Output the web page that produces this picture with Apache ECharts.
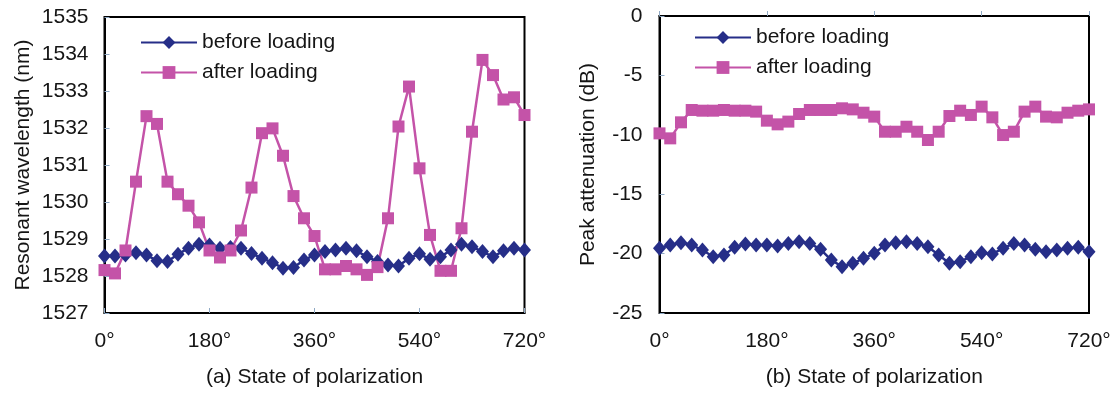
<!DOCTYPE html>
<html>
<head>
<meta charset="utf-8">
<script src="https://cdn.jsdelivr.net/npm/echarts@6/dist/echarts.min.js"></script>
<style>
html,body{margin:0;padding:0;background:#fff;}
#chart{width:1114px;height:394px;}
</style>
</head>
<body>
<div id="chart"></div>
<script>
// State of polarization (degrees)
const angles = [0,18,36,54,72,90,108,126,144,162,180,198,216,234,252,270,288,306,324,342,360,378,396,414,432,450,468,486,504,522,540,558,576,594,612,630,648,666,684,702,720];
const xTicks = [0,180,360,540,720];
const seriesNames = ['before loading','after loading'];

// (a) Resonant wavelength (nm)
const wlBefore = [1528.54,1528.54,1528.57,1528.63,1528.57,1528.41,1528.39,1528.59,1528.75,1528.86,1528.84,1528.75,1528.77,1528.75,1528.61,1528.48,1528.36,1528.21,1528.23,1528.43,1528.57,1528.66,1528.70,1528.75,1528.68,1528.52,1528.39,1528.30,1528.27,1528.48,1528.60,1528.45,1528.52,1528.70,1528.86,1528.79,1528.66,1528.52,1528.68,1528.75,1528.70];
const wlAfter = [1528.16,1528.07,1528.69,1530.55,1532.32,1532.11,1530.55,1530.21,1529.90,1529.45,1528.69,1528.50,1528.69,1529.23,1530.39,1531.86,1531.99,1531.25,1530.16,1529.56,1529.08,1528.18,1528.18,1528.27,1528.18,1528.03,1528.24,1529.56,1532.04,1533.12,1530.91,1529.11,1528.14,1528.14,1529.29,1531.90,1533.84,1533.43,1532.77,1532.83,1532.35];

// (b) Peak attenuation (dB)
const paBefore = [-19.56,-19.28,-19.08,-19.28,-19.70,-20.26,-20.12,-19.47,-19.19,-19.28,-19.28,-19.36,-19.14,-19.00,-19.14,-19.64,-20.54,-21.10,-20.82,-20.40,-19.98,-19.28,-19.08,-19.00,-19.14,-19.42,-20.12,-20.82,-20.68,-20.26,-19.92,-20.03,-19.56,-19.14,-19.28,-19.64,-19.84,-19.70,-19.56,-19.47,-19.84];
const paAfter = [-9.88,-10.30,-8.95,-7.91,-7.97,-7.97,-7.91,-7.97,-7.97,-8.05,-8.81,-9.12,-8.89,-8.25,-7.91,-7.91,-7.91,-7.77,-7.86,-8.14,-8.47,-9.74,-9.74,-9.32,-9.74,-10.44,-9.74,-8.42,-7.97,-8.33,-7.63,-8.53,-10.02,-9.74,-8.05,-7.63,-8.47,-8.53,-8.14,-7.97,-7.86];

const BLUE = '#262e88';
const PINK = '#c453a8';
const FONT = '"Liberation Sans", Arial, sans-serif';
const TXT = '#151515';
const TICK = '#8fa9c4';
const FS = 21;

function pairs(xs, ys){ return xs.map((x,i)=>[x, ys[i]]); }

function xAxisFor(gi, name){
  return {
    type:'value', gridIndex:gi, min:xTicks[0], max:xTicks[xTicks.length-1], interval:180,
    name:name, nameLocation:'middle', nameGap:54,
    nameTextStyle:{fontFamily:FONT, fontSize:FS, color:TXT},
    axisLine:{show:true, lineStyle:{color:'#000', width:2}},
    axisTick:{show:true, inside:true, length:5, lineStyle:{color:TICK, width:1}},
    axisLabel:{fontFamily:FONT, fontSize:FS, color:TXT, margin:18, formatter:v=>v+'°'},
    splitLine:{show:false}
  };
}
function yAxisFor(gi, min, max, interval, name, gap, margin){
  return {
    type:'value', gridIndex:gi, min:min, max:max, interval:interval,
    name:name, nameLocation:'middle', nameGap:gap,
    nameTextStyle:{fontFamily:FONT, fontSize:FS, color:TXT},
    axisLine:{show:true, lineStyle:{color:'#000', width:2}},
    axisTick:{show:true, inside:true, length:5, lineStyle:{color:TICK, width:1}},
    axisLabel:{fontFamily:FONT, fontSize:FS, color:TXT, margin:margin, formatter:v=>String(v)},
    splitLine:{show:false}
  };
}
function lineSeries(name, data, xi, yi, sym, size, color){
  return {
    name:name, type:'line', xAxisIndex:xi, yAxisIndex:yi, data:data,
    symbol:sym, symbolSize:size, showSymbol:true, animation:false,
    lineStyle:{color:color, width:2.5}, itemStyle:{color:color}
  };
}

const chart = echarts.init(document.getElementById('chart'), null, {renderer:'canvas'});
chart.setOption({
  backgroundColor:'#fff',
  animation:false,
  grid:[
    {left:104.5, top:17, width:420, height:296, show:true, borderColor:'#000', borderWidth:2, containLabel:false},
    {left:659.5, top:16, width:429.5, height:297, show:true, borderColor:'#000', borderWidth:2, containLabel:false}
  ],
  legend:[
    {orient:'vertical', left:135, top:27, itemWidth:56, itemHeight:16, itemGap:9,
     data:seriesNames, textStyle:{fontFamily:FONT, fontSize:FS, color:TXT}},
    {orient:'vertical', left:689, top:22, itemWidth:56, itemHeight:16, itemGap:9,
     data:seriesNames, textStyle:{fontFamily:FONT, fontSize:FS, color:TXT}}
  ],
  xAxis:[ xAxisFor(0,'(a) State of polarization'), xAxisFor(1,'(b) State of polarization') ],
  yAxis:[
    yAxisFor(0,1527,1535,1,'Resonant wavelength (nm)',71,16),
    yAxisFor(1,-25,0,5,'Peak attenuation (dB)',61,17)
  ],
  series:[
    lineSeries(seriesNames[0], pairs(angles, wlBefore), 0, 0, 'diamond', [13,15], BLUE),
    lineSeries(seriesNames[1], pairs(angles, wlAfter), 0, 0, 'rect', 12, PINK),
    lineSeries(seriesNames[0], pairs(angles, paBefore), 1, 1, 'diamond', [13,15], BLUE),
    lineSeries(seriesNames[1], pairs(angles, paAfter), 1, 1, 'rect', 12, PINK)
  ]
});
</script>
</body>
</html>
